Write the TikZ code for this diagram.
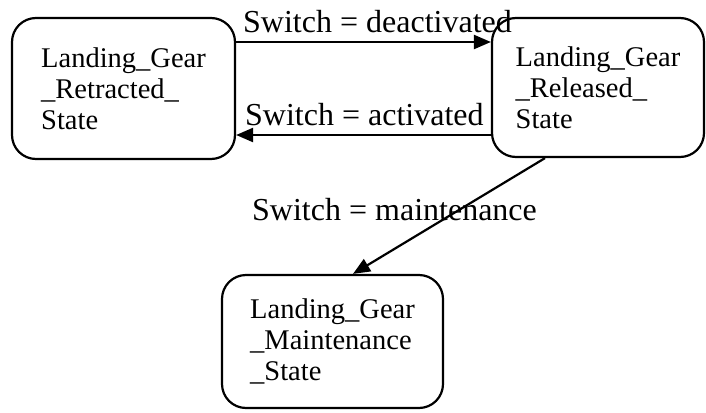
\documentclass[tikz,border=0pt]{standalone}
\usepackage{fontspec}
\setmainfont{Liberation Serif}
\usetikzlibrary{arrows.meta}
\begin{document}
\begin{tikzpicture}[x=1pt,y=-1pt,
  statebox/.style={draw,line width=2.2pt,rounded corners=24pt,align=left,
    inner sep=0pt,font=\fontsize{28.5}{31}\selectfont},
  lbl/.style={anchor=base west,inner sep=0pt,font=\fontsize{32}{34}\selectfont},
  conn/.style={line width=2.2pt,-{Triangle[length=17pt,width=14pt]}}]
\useasboundingbox (0,0) rectangle (706,412);
\node[statebox,minimum width=223pt,minimum height=141pt] (r) at (123.5,88.5)
  {Landing\_Gear\\\_Retracted\_\\State};
\node[statebox,minimum width=212pt,minimum height=139pt] (s) at (598,87.5)
  {Landing\_Gear\\\_Released\_\\State};
\node[statebox,minimum width=221pt,minimum height=133pt] (m) at (332.5,341.5)
  {Landing\_Gear\\\_Maintenance\\\_State};
\draw[conn] (r.east |- 0,42) -- (s.west |- 0,42);
\draw[conn] (s.west |- 0,135) -- (r.east |- 0,135);
\draw[conn] ([xshift=-53pt]s.south) -- ([xshift=20.5pt]m.north);
\node[lbl] (l1) at (243,33) {Switch = deactivated};
\node[lbl] (l2) at (245,125) {Switch = activated};
\node[lbl] (l3) at (252,220) {Switch = maintenance};
\end{tikzpicture}
\end{document}
